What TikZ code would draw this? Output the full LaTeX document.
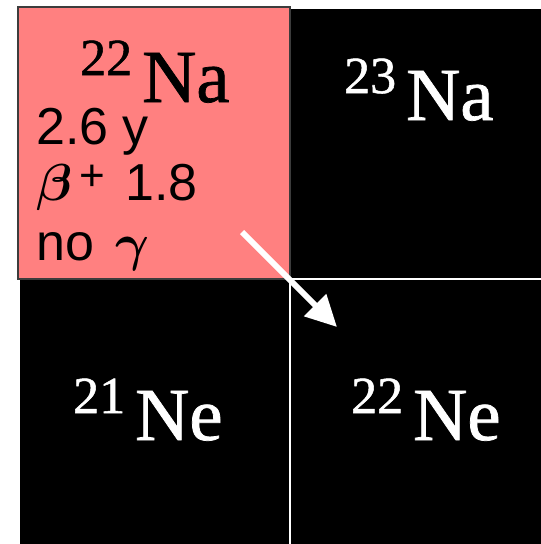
\documentclass[tikz,border=0pt]{standalone}
\usepackage{fix-cm}
\usepackage{amsmath}
\usepackage{fontspec}
\setmainfont{Liberation Sans}
\newfontfamily\elemfont[FakeBold=1]{Liberation Serif}
\usetikzlibrary{arrows.meta}
\definecolor{hotcell}{RGB}{255,128,128}
\definecolor{rimgray}{RGB}{60,60,60}
% mass number raised in front of the symbol
\newcommand{\nucl}[2]{\raisebox{27pt}{\fontsize{52}{52}\selectfont #1}\hspace{10pt}#2}

\begin{document}
\begin{tikzpicture}[x=1pt, y=-1pt,
  cell/.style={draw=white, line width=1.5pt, fill=black},
  nuclide/.style={anchor=base west, inner sep=0pt, font=\elemfont\fontsize{75}{75}\selectfont},
  info/.style={anchor=base west, inner sep=0pt, font=\fontsize{52}{58}\selectfont},
  decay/.style={white, line width=6pt, -{Triangle[length=31pt, width=30pt]}}]
  \useasboundingbox (0,0) rectangle (541,544);
  \clip (0,0) rectangle (541,544);
  % stable neighbours in black
  \foreach \x/\y in {290/8, 19/279, 290/279} {
    \draw[cell] (\x,\y) rectangle ++(280,280);
  }
  % the radioactive one
  \draw[fill=hotcell, draw=rimgray, line width=1.5pt] (18,7) rectangle (290,279);
  \node[nuclide] (na22) at (80,102) {\nucl{22}{Na}};
  \node[nuclide, white] (na23) at (344,120) {\nucl{23}{Na}};
  \node[nuclide, white] (ne21) at (73,440) {\nucl{21}{Ne}};
  \node[nuclide, white] (ne22) at (351,440) {\nucl{22}{Ne}};
  % half-life and decay data
  \node[info] (halflife) at (36,144) {2.6 y};
  \node[info] (betaplus) at (36,200) {$\boldsymbol{\beta}$\hspace{7pt}{\fontsize{44}{44}\selectfont\raisebox{10pt}{+}}};
  \node[info] (endpoint) at (125,200) {1.8};
  \node[info] (nogamma) at (36,260) {no\hspace{21pt}$\boldsymbol{\gamma}$};
  % decay arrow
  \coordinate (decayfrom) at (242,232);
  \coordinate (decayto) at (337,327);
  \draw[decay] (decayfrom) -- (decayto);
\end{tikzpicture}
\end{document}
